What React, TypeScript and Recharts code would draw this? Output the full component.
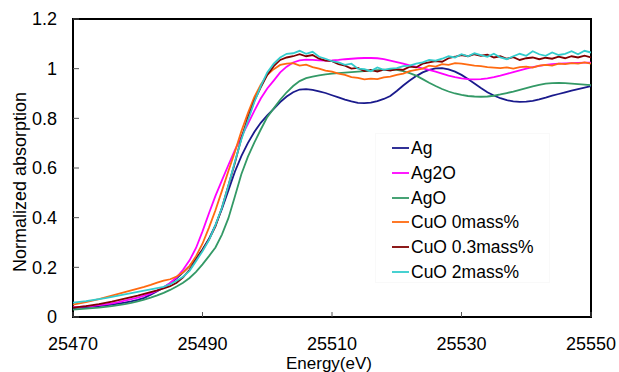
import React from "react";
import { LineChart, Line, XAxis, YAxis, ReferenceArea, Legend, Label } from "recharts";

// Energy grid (eV), 1 eV sampling from 25470 to 25550
const energyStart = 25470;
const energyCount = 81;
const energies: number[] = Array.from({ length: energyCount }, (_, i) => energyStart + i);

const xTicks = [25470, 25490, 25510, 25530, 25550];
const yTicks = [0, 0.2, 0.4, 0.6, 0.8, 1, 1.2];

const seriesNames = ["Ag", "Ag2O", "AgO", "CuO 0mass%", "CuO 0.3mass%", "CuO 2mass%"];
const seriesColors = ["#1a1a8c", "#ff00ff", "#339966", "#ff6a10", "#800000", "#33cccc"];

const ag = [
  0.036, 0.038, 0.040, 0.042, 0.044, 0.047, 0.050, 0.054, 0.058, 0.063,
  0.069, 0.077, 0.090, 0.104, 0.119, 0.136, 0.156, 0.180, 0.205, 0.235,
  0.272, 0.315, 0.370, 0.435, 0.510, 0.585, 0.648, 0.700, 0.745, 0.782,
  0.812, 0.838, 0.865, 0.888, 0.905, 0.916, 0.918, 0.915, 0.909, 0.902,
  0.893, 0.884, 0.875, 0.868, 0.862, 0.861, 0.863, 0.869, 0.878, 0.890,
  0.910, 0.932, 0.952, 0.970, 0.985, 0.995, 1.001, 1.002, 0.997, 0.988,
  0.975, 0.958, 0.940, 0.922, 0.905, 0.892, 0.881, 0.873, 0.868, 0.866,
  0.867, 0.870, 0.876, 0.883, 0.891, 0.898, 0.905, 0.912, 0.918, 0.924,
  0.930,
];
const ag2o = [
  0.040, 0.041, 0.043, 0.045, 0.048, 0.051, 0.055, 0.060, 0.066, 0.072,
  0.078, 0.086, 0.095, 0.106, 0.120, 0.137, 0.160, 0.190, 0.228, 0.278,
  0.345, 0.418, 0.488, 0.550, 0.612, 0.672, 0.725, 0.777, 0.830, 0.880,
  0.920, 0.952, 0.985, 1.008, 1.025, 1.033, 1.036, 1.035, 1.033, 1.032,
  1.033, 1.035, 1.038, 1.040, 1.042, 1.043, 1.043, 1.042, 1.038, 1.032,
  1.026, 1.020, 1.013, 1.007, 1.001, 0.995, 0.988, 0.980, 0.972, 0.966,
  0.961, 0.958, 0.957, 0.958, 0.961, 0.966, 0.972, 0.979, 0.986, 0.993,
  1.000, 1.006, 1.011, 1.015, 1.018, 1.020, 1.021, 1.022, 1.023, 1.024,
  1.024,
];
const ago = [
  0.030, 0.032, 0.034, 0.036, 0.038, 0.041, 0.044, 0.048, 0.052, 0.057,
  0.063, 0.070, 0.078, 0.087, 0.097, 0.109, 0.123, 0.138, 0.157, 0.182,
  0.212, 0.245, 0.280, 0.332, 0.398, 0.485, 0.575, 0.645, 0.702, 0.755,
  0.805, 0.840, 0.875, 0.905, 0.930, 0.950, 0.962, 0.968, 0.973, 0.977,
  0.980, 0.982, 0.984, 0.986, 0.988, 0.990, 0.992, 0.994, 0.995, 0.996,
  0.995, 0.990, 0.982, 0.972, 0.958, 0.943, 0.930, 0.918, 0.908, 0.900,
  0.894, 0.890, 0.888, 0.887, 0.888, 0.891, 0.896, 0.902, 0.908, 0.915,
  0.922, 0.929, 0.935, 0.940, 0.942, 0.943, 0.942, 0.940, 0.938, 0.936,
  0.934,
];
const cuo0 = [
  0.050, 0.055, 0.060, 0.066, 0.072, 0.079, 0.086, 0.093, 0.100, 0.107,
  0.114, 0.121, 0.129, 0.138, 0.146, 0.152, 0.163, 0.180, 0.205, 0.245,
  0.295, 0.360, 0.430, 0.508, 0.588, 0.665, 0.748, 0.820, 0.885, 0.935,
  0.975, 0.998, 1.015, 1.020, 1.022, 1.012, 1.016, 1.006, 1.000, 0.992,
  0.988, 0.980, 0.975, 0.966, 0.963, 0.957, 0.960, 0.958, 0.965, 0.968,
  0.975, 0.980, 0.990, 0.995, 1.000, 1.012, 1.008, 1.018, 1.015, 1.022,
  1.020, 1.016, 1.012, 1.010, 1.006, 1.004, 1.002, 1.005, 1.000, 1.006,
  1.008, 1.004, 1.012, 1.015, 1.012, 1.020, 1.018, 1.022, 1.020, 1.025,
  1.020,
];
const cuo03 = [
  0.038, 0.041, 0.044, 0.048, 0.052, 0.057, 0.062, 0.068, 0.074, 0.080,
  0.086, 0.093, 0.100, 0.107, 0.115, 0.124, 0.138, 0.160, 0.190, 0.230,
  0.270, 0.312, 0.365, 0.440, 0.530, 0.620, 0.720, 0.800, 0.870, 0.925,
  0.975, 1.010, 1.035, 1.045, 1.050, 1.058, 1.050, 1.055, 1.040, 1.032,
  1.030, 1.018, 1.012, 1.000, 1.003, 0.990, 0.995, 0.988, 0.996, 0.992,
  0.998, 0.995, 1.008, 1.005, 1.020, 1.025, 1.030, 1.028, 1.042, 1.048,
  1.055, 1.050, 1.058, 1.052, 1.056, 1.045, 1.050, 1.040, 1.046, 1.035,
  1.042, 1.045, 1.038, 1.044, 1.040, 1.048, 1.042, 1.050, 1.045, 1.052,
  1.045,
];
const cuo2 = [
  0.058, 0.061, 0.064, 0.068, 0.072, 0.076, 0.081, 0.086, 0.091, 0.096,
  0.101, 0.106, 0.111, 0.116, 0.121, 0.132, 0.146, 0.162, 0.186, 0.225,
  0.265, 0.310, 0.370, 0.440, 0.530, 0.625, 0.715, 0.790, 0.865, 0.930,
  0.985, 1.020, 1.045, 1.060, 1.062, 1.072, 1.060, 1.068, 1.048, 1.040,
  1.030, 1.025, 1.015, 1.020, 1.000, 0.998, 0.990, 1.005, 0.995, 1.000,
  1.002, 1.010, 1.012, 1.020, 1.025, 1.035, 1.032, 1.040, 1.050, 1.045,
  1.058, 1.050, 1.062, 1.055, 1.048, 1.060, 1.045, 1.038, 1.050, 1.060,
  1.052, 1.070, 1.058, 1.052, 1.065, 1.055, 1.060, 1.070, 1.058, 1.072,
  1.065,
];

const seriesValues = [ag, ag2o, ago, cuo0, cuo03, cuo2];
const seriesKeys = ["s0", "s1", "s2", "s3", "s4", "s5"];

const data = energies.map((e, i) => {
  const row: Record<string, number> = { energy: e };
  seriesKeys.forEach((k, s) => {
    row[k] = seriesValues[s][i];
  });
  return row;
});

const FONT = "'Liberation Sans', Arial, sans-serif";

const LegendContent = () => (
  <div
    style={{
      border: "1px solid #f9f9f9",
      width: 175,
      height: 150,
      boxSizing: "border-box",
      paddingTop: 2,
      paddingLeft: 16,
      fontFamily: FONT,
      fontSize: 17.5,
      color: "#000",
    }}
  >
    {seriesNames.map((name, s) => (
      <div key={name} style={{ display: "flex", alignItems: "center", height: 24.7 }}>
        <svg width={18} height={4} style={{ marginRight: 1 }}>
          <line x1={0} y1={2} x2={17} y2={2} stroke={seriesColors[s]} strokeWidth={1.8} />
        </svg>
        <span style={{ lineHeight: "20px" }}>{name}</span>
      </div>
    ))}
  </div>
);

export default function App() {
  return (
    <div style={{ position: "absolute", left: 0, top: 0, background: "#fff" }}>
      <LineChart
        width={619}
        height={372}
        data={data}
        margin={{ top: 19, right: 28, bottom: 7, left: 0 }}
      >
        <XAxis
          dataKey="energy"
          type="number"
          domain={[25470, 25550]}
          ticks={xTicks}
          allowDataOverflow
          axisLine={false}
          tickSize={-5}
          tickMargin={25}
          tickLine={{ stroke: "#555", strokeWidth: 1 }}
          height={48}
          tick={{ fontFamily: FONT, fontSize: 18, fill: "#000" }}
        >
          <Label
            content={() => (
              <text
                x={329}
                y={369}
                textAnchor="middle"
                style={{ fontFamily: FONT, fontSize: 17, fill: "#000" }}
              >
                Energy(eV)
              </text>
            )}
          />
        </XAxis>
        <YAxis
          type="number"
          domain={[0, 1.2]}
          ticks={yTicks}
          allowDataOverflow
          axisLine={false}
          tickSize={-6}
          tickMargin={22}
          tickLine={{ stroke: "#555", strokeWidth: 1 }}
          width={73}
          tick={{ fontFamily: FONT, fontSize: 18, fill: "#000" }}
        >
          <Label
            content={() => (
              <text
                x={20}
                y={182}
                transform="rotate(-90 20 182)"
                textAnchor="middle"
                dominantBaseline="central"
                style={{ fontFamily: FONT, fontSize: 18, fill: "#000" }}
              >
                Normalized absorption
              </text>
            )}
          />
        </YAxis>
        <ReferenceArea
          x1={25470}
          x2={25550}
          y1={0}
          y2={1.2}
          fill="none"
          fillOpacity={0}
          stroke="#000"
          strokeWidth={2}
          ifOverflow="visible"
        />
        {seriesKeys.map((k, s) => (
          <Line
            key={k}
            dataKey={k}
            name={seriesNames[s]}
            stroke={seriesColors[s]}
            strokeWidth={1.8}
            dot={false}
            activeDot={false}
            type="linear"
            isAnimationActive={false}
          />
        ))}
        <Legend
          layout="vertical"
          align="center"
          verticalAlign="middle"
          content={<LegendContent />}
          wrapperStyle={{ position: "absolute", left: 375, top: 133, width: 175, height: 150 }}
        />
      </LineChart>
    </div>
  );
}
